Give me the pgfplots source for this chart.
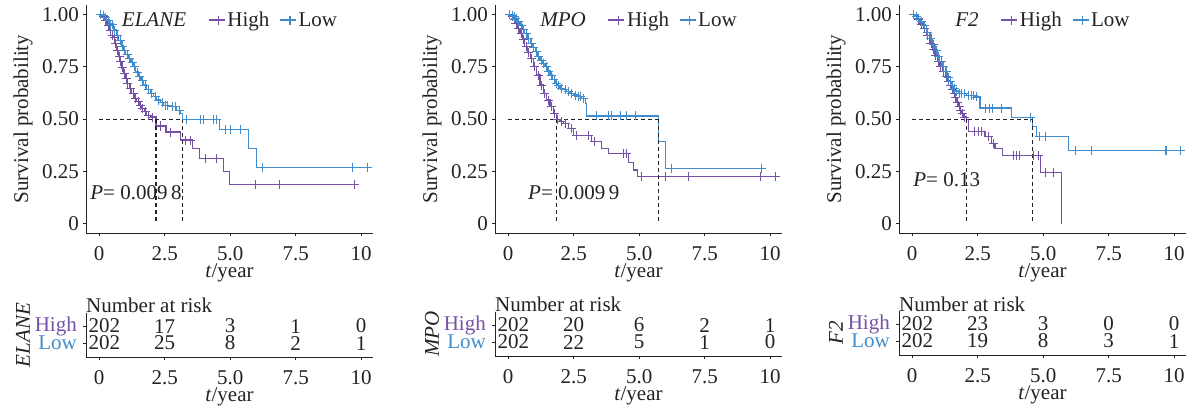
\documentclass[border=0pt]{standalone}
\usepackage{pgfplots}
\pgfplotsset{compat=1.18}
\usepackage{fontspec}
\setmainfont{Liberation Serif}
\definecolor{highc}{RGB}{117,81,165}
\definecolor{lowc}{RGB}{65,140,205}
\definecolor{txt}{RGB}{35,35,35}
\newcommand\myfont{\fontsize{21}{24}\selectfont}
\pgfplotsset{
  legend image code/.code={%
    \draw[#1,mark=none] (0pt,0pt) -- (16pt,0pt);
    \draw[#1,mark=+,mark size=4.5pt] plot coordinates {(10pt,0pt)};},
  kmbase/.style={
    scale only axis, width=287pt, xmin=-0.5, xmax=10.45,
    axis x line*=bottom, axis y line*=left,
    axis line style={line width=1pt, txt},
    tick align=outside, major tick length=3pt,
    tick style={line width=0.8pt, txt},
    xtick={0,2.5,5,7.5,10}, xticklabels={0,2.5,5.0,7.5,10},
    tick label style={font=\myfont, text=txt},
    label style={font=\myfont, text=txt},
    xticklabel style={anchor=center, inner sep=0pt, yshift=-17.5pt},
    xlabel={\textit{t}/year},
    clip=false,
  },
  kmtop/.style={kmbase, height=228pt, ymin=-0.045, ymax=1.046,
    ytick={0,0.25,0.5,0.75,1}, yticklabels={0,0.25,0.50,0.75,1.00},
    yticklabel style={anchor=east, inner sep=0pt, xshift=-4pt},
    ylabel={Survival probability},
    ylabel style={at={(axis description cs:-0.2195,0.5)}, anchor=center},
    xlabel style={at={(axis description cs:0.5,-0.175)}, anchor=center},
    legend columns=-1,
    legend style={at={(0.5,0.934)}, anchor=center, draw=none, fill=none,
      font=\myfont, text=txt, inner sep=0pt, nodes={inner sep=0pt},
      /tikz/column 2/.style={column sep=22pt},
      /tikz/column 3/.style={column sep=2pt},
      /tikz/column 4/.style={column sep=10pt},
      /tikz/column 5/.style={column sep=2pt}},
  },
  kmrisk/.style={kmbase, height=44pt, ymin=0.18, ymax=2.77,
    ytick={1,2}, yticklabels={\textcolor{lowc}{Low},\textcolor{highc}{High}},
    yticklabel style={anchor=east, inner sep=0pt, xshift=-6pt},
    ylabel style={at={(axis description cs:-0.2195,0.5)}, anchor=center},
    xlabel style={at={(axis description cs:0.5,-0.90)}, anchor=center},
  },
  curveH/.style={const plot, mark=none, highc, line width=1.2pt},
  curveL/.style={const plot, mark=none, lowc, line width=1.2pt},
  censH/.style={only marks, mark=+, mark size=4.5pt, highc, mark options={line width=0.9pt}, forget plot},
  censL/.style={only marks, mark=+, mark size=4.5pt, lowc, mark options={line width=0.9pt}, forget plot},
  dashline/.style={txt, line width=1.1pt, dash pattern=on 4pt off 3pt, forget plot, mark=none},
}
\begin{document}
\begin{tikzpicture}[font=\myfont]
\useasboundingbox (0pt,0pt) rectangle (1191pt,410pt);
% ---------------- Panel 1: ELANE ----------------
\begin{axis}[kmtop, at={(86pt,177pt)}, anchor=south west]
\addlegendimage{empty legend}\addlegendentry{\textit{ELANE}}
\addplot[curveH] coordinates {(0,1)(0.1,0.99)(0.2,0.97)(0.3,0.95)(0.4,0.925)(0.5,0.90)(0.55,0.89)(0.6,0.86)(0.67,0.83)(0.75,0.80)(0.8,0.775)(0.87,0.745)(0.93,0.72)(1.0,0.695)(1.06,0.67)(1.15,0.645)(1.25,0.623)(1.35,0.60)(1.44,0.583)(1.55,0.565)(1.63,0.551)(1.72,0.535)(1.82,0.519)(1.95,0.51)(2.17,0.467)(2.55,0.438)(3.1,0.40)(3.55,0.358)(3.84,0.312)(4.74,0.248)(4.96,0.187)(9.8,0.187)};
\addlegendentry{High}
\addplot[curveL] coordinates {(0,1)(0.1,0.995)(0.2,0.985)(0.29,0.974)(0.4,0.955)(0.55,0.926)(0.65,0.90)(0.74,0.878)(0.85,0.85)(0.93,0.83)(1.02,0.81)(1.12,0.79)(1.22,0.77)(1.31,0.75)(1.4,0.725)(1.5,0.703)(1.6,0.683)(1.69,0.663)(1.82,0.643)(1.95,0.623)(2.08,0.607)(2.2,0.591)(2.33,0.579)(2.46,0.567)(2.71,0.559)(2.96,0.543)(3.1,0.527)(3.17,0.498)(4.58,0.45)(5.70,0.36)(5.99,0.267)(10.28,0.267)};
\addlegendentry{Low}
\addplot[censH] coordinates {(0.05,1)(0.15,0.99)(0.25,0.97)(0.35,0.95)(0.45,0.925)(0.52,0.90)(0.57,0.89)(0.63,0.86)(0.7,0.83)(0.77,0.80)(0.83,0.775)(0.9,0.745)(0.96,0.72)(1.03,0.695)(1.1,0.67)(1.2,0.645)(1.3,0.623)(1.4,0.60)(1.5,0.583)(1.59,0.565)(1.67,0.551)(1.77,0.535)(1.88,0.519)(2.05,0.51)(2.33,0.467)(2.71,0.438)(3.28,0.40)(3.47,0.40)(4.05,0.312)(4.49,0.312)(5.98,0.187)(6.87,0.187)(9.74,0.187)};
\addplot[censL] coordinates {(0.05,1)(0.15,0.995)(0.25,0.985)(0.35,0.974)(0.45,0.955)(0.5,0.955)(0.6,0.926)(0.7,0.90)(0.8,0.878)(0.9,0.85)(0.98,0.83)(1.07,0.81)(1.17,0.79)(1.27,0.77)(1.36,0.75)(1.45,0.725)(1.55,0.703)(1.65,0.683)(1.75,0.663)(1.88,0.643)(2.0,0.623)(2.14,0.607)(2.27,0.591)(2.4,0.579)(2.55,0.567)(2.62,0.567)(2.8,0.559)(2.9,0.559)(3.05,0.543)(3.35,0.498)(3.86,0.498)(3.98,0.498)(4.36,0.498)(4.49,0.498)(4.81,0.45)(5.0,0.45)(5.38,0.45)(6.23,0.267)(9.68,0.267)(10.23,0.267)};
\addplot[dashline] coordinates {(0,0.5)(3.17,0.5)};
\addplot[dashline] coordinates {(2.17,0.5)(2.17,0)};
\addplot[dashline] coordinates {(3.17,0.5)(3.17,0)};
\node[anchor=west, inner sep=0pt, text=txt] at (axis cs:-0.34,0.146) {\textit{P}= 0.009\,8};
\end{axis}
\begin{axis}[kmrisk, at={(86pt,53pt)}, anchor=south west, ylabel={\textit{ELANE}}]
\node[anchor=base west, inner sep=0pt, text=txt] at (rel axis cs:0,1) {Number at risk};
\node[text=txt, inner sep=0pt] at (axis cs:0.2,2) {202};
\node[text=txt, inner sep=0pt] at (axis cs:2.5,2) {17};
\node[text=txt, inner sep=0pt] at (axis cs:5,2) {3};
\node[text=txt, inner sep=0pt] at (axis cs:7.5,2) {1};
\node[text=txt, inner sep=0pt] at (axis cs:10,2) {0};
\node[text=txt, inner sep=0pt] at (axis cs:0.2,1) {202};
\node[text=txt, inner sep=0pt] at (axis cs:2.5,1) {25};
\node[text=txt, inner sep=0pt] at (axis cs:5,1) {8};
\node[text=txt, inner sep=0pt] at (axis cs:7.5,1) {2};
\node[text=txt, inner sep=0pt] at (axis cs:10,1) {1};
\end{axis}
% ---------------- Panel 2: MPO ----------------
\begin{axis}[kmtop, at={(495pt,177pt)}, anchor=south west]
\addlegendimage{empty legend}\addlegendentry{\textit{MPO}}
\addplot[curveH] coordinates {(0,1)(0.1,0.99)(0.2,0.975)(0.26,0.958)(0.35,0.935)(0.45,0.91)(0.55,0.88)(0.64,0.846)(0.74,0.82)(0.84,0.79)(0.96,0.75)(1.09,0.711)(1.22,0.663)(1.34,0.623)(1.47,0.591)(1.60,0.559)(1.73,0.527)(1.84,0.497)(1.98,0.49)(2.11,0.479)(2.30,0.455)(2.49,0.423)(3.19,0.391)(3.57,0.36)(3.83,0.336)(4.59,0.291)(4.78,0.256)(4.94,0.224)(10.25,0.224)};
\addlegendentry{High}
\addplot[curveL] coordinates {(0,1)(0.1,0.997)(0.2,0.99)(0.26,0.982)(0.35,0.965)(0.45,0.95)(0.55,0.93)(0.64,0.91)(0.74,0.885)(0.84,0.862)(0.93,0.842)(1.03,0.822)(1.12,0.80)(1.22,0.782)(1.31,0.765)(1.41,0.75)(1.5,0.73)(1.6,0.711)(1.7,0.69)(1.79,0.671)(1.88,0.66)(1.98,0.647)(2.1,0.64)(2.24,0.631)(2.36,0.623)(2.49,0.615)(2.65,0.607)(2.81,0.599)(2.94,0.575)(3.0,0.515)(5.73,0.391)(5.99,0.264)(9.74,0.264)};
\addlegendentry{Low}
\addplot[censH] coordinates {(0.05,1)(0.15,0.99)(0.23,0.975)(0.3,0.958)(0.4,0.935)(0.5,0.91)(0.6,0.88)(0.69,0.846)(0.79,0.82)(0.9,0.79)(1.02,0.75)(1.15,0.711)(1.28,0.663)(1.4,0.623)(1.53,0.591)(1.66,0.559)(1.78,0.527)(1.9,0.497)(2.05,0.49)(2.2,0.479)(2.4,0.455)(2.6,0.423)(3.07,0.423)(3.3,0.391)(4.4,0.336)(4.53,0.336)(5.1,0.224)(5.99,0.224)(6.88,0.224)(9.61,0.224)(10.19,0.224)};
\addplot[censL] coordinates {(0.05,1)(0.15,0.997)(0.23,0.99)(0.3,0.982)(0.4,0.965)(0.5,0.95)(0.6,0.93)(0.69,0.91)(0.79,0.885)(0.88,0.862)(0.98,0.842)(1.07,0.822)(1.17,0.80)(1.27,0.782)(1.36,0.765)(1.45,0.75)(1.55,0.73)(1.65,0.711)(1.75,0.69)(1.84,0.671)(1.93,0.66)(2.04,0.647)(2.17,0.64)(2.3,0.631)(2.43,0.623)(2.57,0.615)(2.7,0.607)(2.75,0.607)(2.88,0.599)(3.38,0.515)(3.83,0.515)(3.96,0.515)(4.28,0.515)(4.53,0.515)(4.85,0.515)(6.23,0.264)(9.68,0.264)};
\addplot[dashline] coordinates {(0,0.5)(5.75,0.5)};
\addplot[dashline] coordinates {(1.84,0.5)(1.84,0)};
\addplot[dashline] coordinates {(5.75,0.5)(5.75,0)};
\node[anchor=west, inner sep=0pt, text=txt] at (axis cs:0.76,0.146) {\textit{P}= 0.009\,9};
\end{axis}
\begin{axis}[kmrisk, at={(495pt,54pt)}, anchor=south west, ylabel={\textit{MPO}}]
\node[anchor=base west, inner sep=0pt, text=txt] at (rel axis cs:0,1) {Number at risk};
\node[text=txt, inner sep=0pt] at (axis cs:0.2,2) {202};
\node[text=txt, inner sep=0pt] at (axis cs:2.5,2) {20};
\node[text=txt, inner sep=0pt] at (axis cs:5,2) {6};
\node[text=txt, inner sep=0pt] at (axis cs:7.5,2) {2};
\node[text=txt, inner sep=0pt] at (axis cs:10,2) {1};
\node[text=txt, inner sep=0pt] at (axis cs:0.2,1) {202};
\node[text=txt, inner sep=0pt] at (axis cs:2.5,1) {22};
\node[text=txt, inner sep=0pt] at (axis cs:5,1) {5};
\node[text=txt, inner sep=0pt] at (axis cs:7.5,1) {1};
\node[text=txt, inner sep=0pt] at (axis cs:10,1) {0};
\end{axis}
% ---------------- Panel 3: F2 ----------------
\begin{axis}[kmtop, at={(899pt,177pt)}, anchor=south west]
\addlegendimage{empty legend}\addlegendentry{\textit{F2}}
\addplot[curveH] coordinates {(0,1)(0.1,0.99)(0.2,0.975)(0.3,0.955)(0.43,0.933)(0.55,0.9)(0.68,0.861)(0.77,0.832)(0.87,0.805)(0.96,0.778)(1.06,0.75)(1.16,0.726)(1.26,0.702)(1.35,0.682)(1.45,0.662)(1.51,0.642)(1.57,0.622)(1.64,0.602)(1.70,0.582)(1.77,0.562)(1.83,0.542)(1.9,0.526)(1.96,0.510)(2.06,0.499)(2.15,0.442)(2.78,0.415)(3.03,0.383)(3.16,0.359)(3.46,0.327)(4.91,0.244)(5.71,0.0)};
\addlegendentry{High}
\addplot[curveL] coordinates {(0,1)(0.1,0.993)(0.2,0.98)(0.3,0.965)(0.43,0.949)(0.55,0.915)(0.68,0.885)(0.77,0.855)(0.87,0.829)(0.96,0.80)(1.06,0.774)(1.16,0.75)(1.26,0.726)(1.35,0.70)(1.45,0.678)(1.51,0.662)(1.57,0.646)(1.66,0.634)(1.76,0.622)(2.08,0.614)(2.4,0.606)(2.59,0.553)(3.80,0.507)(4.59,0.463)(4.75,0.418)(5.96,0.348)(10.23,0.348)};
\addlegendentry{Low}
\addplot[censH] coordinates {(0.05,1)(0.15,0.99)(0.25,0.975)(0.35,0.955)(0.48,0.933)(0.6,0.9)(0.72,0.861)(0.82,0.832)(0.9,0.805)(1.0,0.778)(1.1,0.75)(1.2,0.726)(1.3,0.702)(1.4,0.682)(1.48,0.662)(1.54,0.642)(1.6,0.622)(1.67,0.602)(1.73,0.582)(1.8,0.562)(1.86,0.542)(1.93,0.526)(2.0,0.51)(2.39,0.442)(2.52,0.442)(2.65,0.442)(2.9,0.415)(3.1,0.383)(3.86,0.327)(3.99,0.327)(4.11,0.327)(4.63,0.327)(4.82,0.327)(5.07,0.244)(5.39,0.244)};
\addplot[censL] coordinates {(0.05,1)(0.15,0.993)(0.25,0.98)(0.36,0.965)(0.48,0.949)(0.6,0.915)(0.72,0.885)(0.82,0.855)(0.92,0.829)(1.01,0.80)(1.11,0.774)(1.21,0.75)(1.3,0.726)(1.4,0.70)(1.48,0.678)(1.54,0.662)(1.6,0.646)(1.7,0.634)(1.8,0.622)(1.9,0.622)(2.0,0.622)(2.15,0.614)(2.25,0.614)(2.35,0.614)(2.45,0.606)(2.8,0.553)(2.95,0.553)(3.05,0.553)(3.4,0.553)(4.5,0.507)(4.85,0.418)(5.1,0.418)(6.23,0.348)(6.83,0.348)(9.68,0.348)(9.72,0.348)(10.23,0.348)};
\addplot[dashline] coordinates {(0,0.5)(4.59,0.5)};
\addplot[dashline] coordinates {(2.06,0.5)(2.06,0)};
\addplot[dashline] coordinates {(4.59,0.5)(4.59,0)};
\node[anchor=west, inner sep=0pt, text=txt] at (axis cs:0.04,0.208) {\textit{P}= 0.13};
\end{axis}
\begin{axis}[kmrisk, at={(899pt,55pt)}, anchor=south west, ylabel={\textit{F2}}]
\node[anchor=base west, inner sep=0pt, text=txt] at (rel axis cs:0,1) {Number at risk};
\node[text=txt, inner sep=0pt] at (axis cs:0.2,2) {202};
\node[text=txt, inner sep=0pt] at (axis cs:2.5,2) {23};
\node[text=txt, inner sep=0pt] at (axis cs:5,2) {3};
\node[text=txt, inner sep=0pt] at (axis cs:7.5,2) {0};
\node[text=txt, inner sep=0pt] at (axis cs:10,2) {0};
\node[text=txt, inner sep=0pt] at (axis cs:0.2,1) {202};
\node[text=txt, inner sep=0pt] at (axis cs:2.5,1) {19};
\node[text=txt, inner sep=0pt] at (axis cs:5,1) {8};
\node[text=txt, inner sep=0pt] at (axis cs:7.5,1) {3};
\node[text=txt, inner sep=0pt] at (axis cs:10,1) {1};
\end{axis}
\end{tikzpicture}
\end{document}
